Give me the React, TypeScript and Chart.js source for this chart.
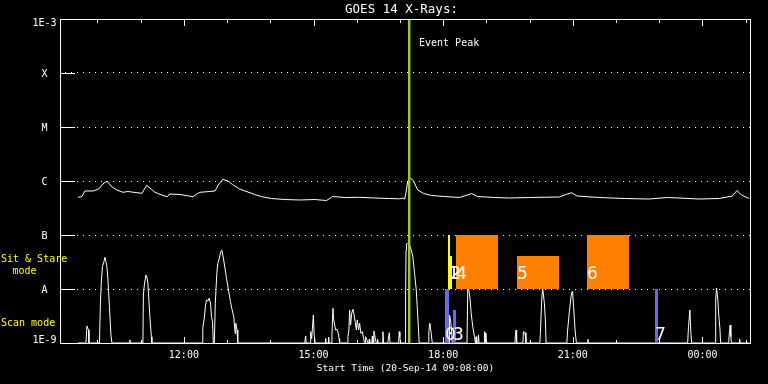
import React, { useEffect, useRef } from 'react';
import { Chart, registerables } from 'chart.js';

Chart.register(...registerables);

const FONT = "'DejaVu Sans Mono', 'Liberation Mono', monospace";

const TITLE = 'GOES 14 X-Rays:';
const X_AXIS_TITLE = 'Start Time (20-Sep-14 09:08:00)';
const START_HOUR = 9 + 8 / 60;
const END_HOUR = 25.1;
const X_TICK_VALUES = [12, 15, 18, 21, 24];
const X_TICK_LABELS = ['12:00', '15:00', '18:00', '21:00', '00:00'];
const Y_TICK_VALUES = [1e-9, 1e-8, 1e-7, 1e-6, 1e-5, 1e-4, 1e-3];
const Y_TICK_LABELS = ['1E-9', 'A', 'B', 'C', 'M', 'X', '1E-3'];

const EVENT_PEAK_HOUR = 17.209;
const EVENT_LABEL = 'Event Peak';

// observations (time in hours of 20-Sep, flux band low/high)
const OBS_IDS = ['0', '1', '2', '3', '4', '5', '6', '7'];
const OBS_KIND = ['scan', 'stareShort', 'stareShort', 'scan', 'stare', 'stare', 'stare', 'scan'];
const OBS_START = [18.042, 18.112, 18.158, 18.228, 18.297, 19.709, 21.329, 22.902];
const OBS_END = [18.135, 18.158, 18.193, 18.297, 19.269, 20.681, 22.301, 22.971];
const OBS_LOW = [1e-9, 1e-8, 1e-8, 1e-9, 1e-8, 1e-8, 1e-8, 1e-9];
const OBS_HIGH = [1e-8, 1e-7, 4.1e-8, 4.1e-9, 1e-7, 4.1e-8, 1e-7, 1e-8];
const STARE_LABEL_LEVEL = 1.56e-8;
const SCAN_LABEL_LEVEL = 1.14e-9;

// GOES long channel (1-8 A), [hour, W/m^2]
const LONG_CHANNEL: [number, number][] = [
  [9.55, 4.99e-7], [9.64, 5.16e-7], [9.71, 6.53e-7], [9.90, 6.53e-7], [10.03, 7.11e-7],
  [10.15, 9.18e-7], [10.22, 9.87e-7], [10.34, 7.74e-7], [10.45, 6.81e-7], [10.59, 6.18e-7],
  [10.71, 6.39e-7], [10.87, 6.12e-7], [11.03, 5.92e-7], [11.14, 8.32e-7], [11.24, 7.11e-7],
  [11.33, 6.18e-7], [11.49, 5.50e-7], [11.61, 5.12e-7], [11.68, 5.74e-7], [11.91, 5.62e-7],
  [12.21, 5.12e-7], [12.30, 5.74e-7], [12.37, 6.18e-7], [12.60, 6.39e-7], [12.72, 6.53e-7],
  [12.81, 8.79e-7], [12.90, 1.07e-6], [13.02, 1.0e-6], [13.13, 8.54e-7], [13.29, 7.11e-7],
  [13.46, 6.34e-7], [13.64, 5.62e-7], [13.80, 5.12e-7], [14.03, 4.74e-7], [14.33, 4.54e-7],
  [14.68, 4.45e-7], [15.03, 4.54e-7], [15.30, 4.35e-7], [15.44, 5.16e-7], [15.72, 4.95e-7],
  [16.07, 4.99e-7], [16.41, 4.84e-7], [16.76, 4.74e-7], [16.99, 4.68e-7], [17.06, 4.84e-7],
  [17.11, 4.64e-7], [17.15, 6.81e-7], [17.18, 1.0e-6], [17.25, 1.12e-6], [17.31, 1.02e-6],
  [17.41, 6.81e-7], [17.55, 5.87e-7], [17.73, 5.38e-7], [18.03, 5.16e-7], [18.38, 4.95e-7],
  [18.56, 5.50e-7], [18.66, 5.87e-7], [18.79, 5.16e-7], [19.19, 4.95e-7], [19.53, 4.84e-7],
  [20.00, 4.95e-7], [20.69, 5.06e-7], [20.87, 5.74e-7], [20.97, 6.06e-7], [21.10, 5.27e-7],
  [21.61, 4.95e-7], [22.19, 4.74e-7], [22.77, 4.64e-7], [23.19, 4.95e-7], [23.46, 4.84e-7],
  [23.92, 4.64e-7], [24.39, 4.74e-7], [24.69, 5.27e-7], [24.80, 6.67e-7], [24.90, 5.50e-7],
  [25.08, 4.74e-7],
];

// GOES short channel (0.5-4 A), [hour, W/m^2]; 1e-9 = at/below axis floor
const SHORT_CHANNEL: [number, number][] = [
  [9.55, 1e-9],
  [9.734, 1e-9], [9.757, 2.07e-9], [9.792, 1.74e-9], [9.804, 1e-9],
  [10.046, 1e-9], [10.069, 5.74e-9], [10.092, 1.47e-8], [10.115, 2.59e-8], [10.150, 3.20e-8],
  [10.173, 3.87e-8], [10.196, 3.20e-8], [10.219, 2.59e-8], [10.243, 1.47e-8], [10.277, 4.70e-9],
  [10.312, 1.41e-9], [10.335, 1e-9],
  [10.74, 1e-9], [10.751, 1.14e-9], [10.762, 1e-9],
  [11.052, 1e-9], [11.063, 7.74e-9], [11.086, 1.19e-8], [11.121, 1.82e-8], [11.144, 1.67e-8],
  [11.167, 1.29e-8], [11.190, 6.25e-9], [11.213, 3.07e-9], [11.248, 1.31e-9], [11.260, 1e-9],
  [12.427, 1e-9], [12.438, 1.90e-9], [12.473, 2.90e-9], [12.501, 5.05e-9], [12.524, 6.25e-9],
  [12.554, 6.0e-9], [12.584, 6.73e-9], [12.616, 5.5e-9], [12.639, 3.07e-9], [12.662, 2.48e-9],
  [12.681, 1e-9],
  [12.704, 1e-9], [12.727, 5.43e-9], [12.762, 1.95e-8], [12.785, 2.99e-8], [12.820, 3.70e-8],
  [12.854, 4.91e-8], [12.877, 5.27e-8], [12.900, 4.26e-8], [12.940, 2.78e-8], [12.986, 1.58e-8],
  [13.032, 9.58e-9], [13.078, 5.82e-9], [13.108, 4.39e-9], [13.155, 3.07e-9], [13.185, 1.51e-9],
  [13.201, 2.32e-9], [13.231, 1.74e-9], [13.247, 1e-9],
  [14.795, 1e-9], [14.818, 1.35e-9], [14.83, 1e-9],
  [14.923, 1e-9], [14.934, 1.62e-9], [14.957, 1.2e-9], [14.973, 1.79e-9], [14.996, 3.30e-9],
  [15.015, 1.41e-9], [15.038, 1e-9],
  [15.27, 1e-9], [15.281, 1.22e-9], [15.29, 1e-9],
  [15.34, 1e-9], [15.350, 1.29e-9], [15.36, 1e-9],
  [15.408, 1e-9], [15.426, 1.41e-9], [15.449, 4.39e-9], [15.466, 2.75e-9], [15.489, 2.15e-9],
  [15.512, 1.74e-9], [15.542, 1.79e-9], [15.574, 1.51e-9], [15.593, 1.2e-9], [15.604, 1e-9],
  [15.778, 1e-9], [15.796, 1.31e-9], [15.819, 1.74e-9], [15.835, 4.08e-9], [15.858, 2.15e-9],
  [15.882, 3.55e-9], [15.912, 4.21e-9], [15.935, 3.44e-9], [15.967, 2.38e-9], [15.990, 1.74e-9],
  [16.013, 2.67e-9], [16.043, 1.74e-9], [16.067, 2.32e-9], [16.096, 1.51e-9], [16.129, 1.62e-9],
  [16.159, 1.22e-9], [16.18, 1e-9],
  [16.195, 1e-9], [16.205, 1.31e-9], [16.235, 1.14e-9], [16.26, 1e-9],
  [16.28, 1e-9], [16.290, 1.17e-9], [16.30, 1e-9],
  [16.35, 1e-9], [16.360, 1.35e-9], [16.375, 1e-9],
  [16.385, 1e-9], [16.397, 1.67e-9], [16.429, 1.22e-9], [16.45, 1e-9],
  [16.47, 1e-9], [16.483, 1.17e-9], [16.495, 1e-9],
  [16.59, 1e-9], [16.605, 1.62e-9], [16.62, 1e-9],
  [16.72, 1e-9], [16.730, 1.17e-9], [16.753, 1.55e-9], [16.772, 1e-9],
  [16.968, 1e-9], [16.984, 1.62e-9], [16.998, 1.31e-9], [17.01, 1e-9],
  [17.118, 1e-9], [17.130, 6.25e-9], [17.141, 5.27e-8], [17.153, 6.81e-8], [17.176, 7.11e-8],
  [17.222, 6.53e-8], [17.261, 5.27e-8], [17.298, 3.96e-8], [17.338, 1.95e-8], [17.377, 9.58e-9],
  [17.400, 4.70e-9], [17.430, 1.74e-9], [17.446, 1e-9],
  [17.649, 1e-9], [17.668, 1.62e-9], [17.691, 2.32e-9], [17.723, 1.51e-9], [17.747, 1e-9],
  [18.135, 1e-9], [18.147, 3.30e-9], [18.170, 2.67e-9], [18.193, 1.74e-9], [18.209, 1e-9],
  [18.551, 1e-9], [18.569, 9.58e-9], [18.592, 9.87e-9], [18.625, 6.25e-9], [18.648, 3.55e-9],
  [18.685, 2.00e-9], [18.724, 1.31e-9], [18.748, 1e-9],
  [18.755, 1e-9], [18.763, 1.31e-9], [18.775, 1e-9],
  [18.805, 1e-9], [18.817, 1.41e-9], [18.83, 1e-9],
  [18.945, 1e-9], [18.955, 1.62e-9], [18.978, 1.51e-9], [18.99, 1e-9],
  [19.66, 1e-9], [19.672, 1.41e-9], [19.688, 1.74e-9], [19.70, 1e-9],
  [19.845, 1e-9], [19.857, 1.62e-9], [19.896, 1.55e-9], [19.915, 1e-9],
  [20.238, 1e-9], [20.249, 1.51e-9], [20.280, 6.25e-9], [20.303, 1.03e-8], [20.342, 5.43e-9],
  [20.365, 2.67e-9], [20.381, 1e-9],
  [20.862, 1e-9], [20.880, 1.74e-9], [20.920, 3.80e-9], [20.959, 7.20e-9], [20.982, 8.91e-9],
  [20.996, 8.32e-9], [21.019, 4.70e-9], [21.052, 1.74e-9], [21.082, 1e-9],
  [21.34, 1e-9], [21.351, 1.17e-9], [21.362, 1e-9],
  [23.657, 1e-9], [23.677, 2.00e-9], [23.709, 4.08e-9], [23.732, 1.51e-9], [23.75, 1e-9],
  [24.295, 1e-9], [24.306, 6.25e-9], [24.325, 1.04e-8], [24.356, 6.25e-9], [24.380, 3.07e-9],
  [24.403, 1.87e-9], [24.421, 1e-9],
  [24.607, 1e-9], [24.618, 1.41e-9], [24.641, 2.15e-9], [24.657, 1.31e-9], [24.67, 1e-9],
  [24.85, 1e-9], [24.86, 1.17e-9], [24.87, 1e-9],
  [25.08, 1e-9],
];

const KIND_COLORS: Record<string, string> = {
  scan: '#6868f0',
  stareShort: '#ffff00',
  stare: '#ff8000',
};
const EVENT_COLOR = '#9ccc20';

const goesPlugin = {
  id: 'goesDecor',
  beforeDraw(chart: any) {
    const ctx = chart.ctx;
    ctx.save();
    ctx.fillStyle = '#000';
    ctx.fillRect(0, 0, chart.width, chart.height);
    ctx.restore();
  },
  afterDatasetsDraw(chart: any) {
    const { ctx, chartArea: a, scales } = chart;
    const x = scales.x;
    const y = scales.y;
    ctx.save();
    ctx.beginPath();
    ctx.rect(a.left, a.top, a.right - a.left + 1, a.bottom - a.top + 1);
    ctx.clip();
    // observation rectangles
    OBS_START.forEach((s: number, i: number) => {
      const x0 = Math.round(x.getPixelForValue(s));
      const x1 = Math.round(x.getPixelForValue(OBS_END[i]));
      const y0 = Math.round(y.getPixelForValue(OBS_HIGH[i]));
      const y1 = Math.round(y.getPixelForValue(OBS_LOW[i]));
      ctx.fillStyle = KIND_COLORS[OBS_KIND[i]];
      ctx.fillRect(x0, y0, Math.max(1, x1 - x0), y1 - y0);
    });
    // event peak line
    const ex = Math.round(x.getPixelForValue(EVENT_PEAK_HOUR));
    ctx.fillStyle = EVENT_COLOR;
    ctx.fillRect(ex - 1, a.top, 2.4, a.bottom - a.top);
    ctx.restore();

    // observation ids
    ctx.save();
    ctx.fillStyle = '#ffffff';
    ctx.font = `18px ${FONT}`;
    ctx.textAlign = 'left';
    ctx.textBaseline = 'alphabetic';
    OBS_IDS.forEach((id: string, i: number) => {
      const lx = Math.round(x.getPixelForValue(OBS_START[i]));
      const ly = y.getPixelForValue(OBS_KIND[i] === 'scan' ? SCAN_LABEL_LEVEL : STARE_LABEL_LEVEL);
      ctx.fillText(id, lx, ly);
    });
    ctx.restore();
  },
  afterDraw(chart: any) {
    const { ctx, chartArea: a, scales } = chart;
    const x = scales.x;
    const y = scales.y;
    const L = Math.round(a.left);
    const R = Math.round(a.right);
    const T = Math.round(a.top);
    const B = Math.round(a.bottom);
    ctx.save();
    ctx.fillStyle = '#ffffff';
    // frame
    ctx.fillRect(L, T, R - L + 1, 1);
    ctx.fillRect(L, B, R - L + 1, 1);
    ctx.fillRect(L, T, 1, B - T + 1);
    ctx.fillRect(R, T, 1, B - T + 1);
    // inward y ticks at class levels
    Y_TICK_VALUES.forEach((v: number, i: number) => {
      if (i === 0 || i === Y_TICK_VALUES.length - 1) return;
      const py = Math.round(y.getPixelForValue(v));
      ctx.fillRect(L, py, 15, 1);
    });
    // hourly ticks top and bottom
    for (let h = Math.ceil(START_HOUR); h <= Math.floor(END_HOUR); h++) {
      const px = Math.round(x.getPixelForValue(h));
      const len = h % 3 === 0 ? 6 : 3;
      ctx.fillRect(px, T + 1, 1, len);
      ctx.fillRect(px, B - len, 1, len);
    }
    // y tick labels (class letters), kept inside the plot span
    ctx.font = `10px ${FONT}`;
    ctx.textAlign = 'center';
    ctx.textBaseline = 'middle';
    Y_TICK_VALUES.forEach((v: number, i: number) => {
      const py = y.getPixelForValue(v) + 1;
      const yy = Math.min(Math.max(py, a.top + 4), a.bottom - 3);
      ctx.fillText(Y_TICK_LABELS[i], 44.5, yy);
    });
    // title
    ctx.font = `12.5px ${FONT}`;
    ctx.fillText(TITLE, 401.5, 9.5);
    // x axis title
    ctx.font = `9.5px ${FONT}`;
    ctx.fillText(X_AXIS_TITLE, 405.5, 369);
    // event label
    ctx.font = `10px ${FONT}`;
    ctx.textAlign = 'left';
    const ex = Math.round(x.getPixelForValue(EVENT_PEAK_HOUR));
    ctx.fillText(EVENT_LABEL, ex + 10, 43);
    // mode labels
    ctx.fillStyle = '#ffff00';
    ctx.fillText('Sit & Stare', 1, 259);
    ctx.textAlign = 'center';
    ctx.fillText('mode', 24.5, 271);
    ctx.textAlign = 'left';
    ctx.fillText('Scan mode', 1, 323.5);
    ctx.restore();
  },
};

export default function App() {
  const canvasRef = useRef<HTMLCanvasElement | null>(null);

  useEffect(() => {
    const canvas = canvasRef.current;
    if (!canvas) return;
    const chart = new Chart(canvas, {
      type: 'line',
      data: {
        datasets: [
          {
            label: 'GOES 1-8 A',
            data: LONG_CHANNEL.map(([t, v]) => ({ x: t, y: v })),
            borderColor: '#ffffff',
            borderWidth: 1,
            pointRadius: 0,
            tension: 0,
            fill: false,
          },
          {
            label: 'GOES 0.5-4 A',
            data: SHORT_CHANNEL.map(([t, v]) => ({ x: t, y: v })),
            borderColor: '#ffffff',
            borderWidth: 1,
            pointRadius: 0,
            tension: 0,
            fill: false,
          },
        ],
      },
      options: {
        responsive: false,
        animation: false,
        events: [],
        layout: { padding: { top: 19, right: 18, left: 0, bottom: 0 } },
        plugins: {
          legend: { display: false },
          tooltip: { enabled: false },
          title: { display: false },
        },
        scales: {
          x: {
            type: 'linear',
            min: START_HOUR,
            max: END_HOUR,
            afterBuildTicks: (s: any) => {
              s.ticks = X_TICK_VALUES.map((v) => ({ value: v }));
            },
            afterFit: (s: any) => {
              s.height = 41;
            },
            grid: { display: false, drawTicks: false },
            border: { display: false },
            ticks: {
              color: '#ffffff',
              font: { family: FONT, size: 10 },
              padding: 6,
              maxRotation: 0,
              minRotation: 0,
              autoSkip: false,
              callback: (_v: any, i: number) => X_TICK_LABELS[i],
            },
          },
          y: {
            type: 'logarithmic',
            min: 1e-9,
            max: 1e-3,
            afterBuildTicks: (s: any) => {
              s.ticks = Y_TICK_VALUES.map((v) => ({ value: v }));
            },
            afterFit: (s: any) => {
              s.width = 60;
            },
            grid: {
              drawTicks: false,
              lineWidth: 1,
              color: (c: any) => {
                const v = c.tick ? c.tick.value : 0;
                return v > 1.5e-9 && v < 5e-4 ? '#ffffff' : 'rgba(0,0,0,0)';
              },
            },
            border: { display: false, dash: [1, 5], dashOffset: 1 },
            ticks: { display: false },
          },
        },
      },
      plugins: [goesPlugin],
    } as any);
    return () => chart.destroy();
  }, []);

  return (
    <div style={{ position: 'fixed', left: 0, top: 0, width: 768, height: 384, background: '#000' }}>
      <canvas ref={canvasRef} width={768} height={384} style={{ display: 'block' }} />
    </div>
  );
}
